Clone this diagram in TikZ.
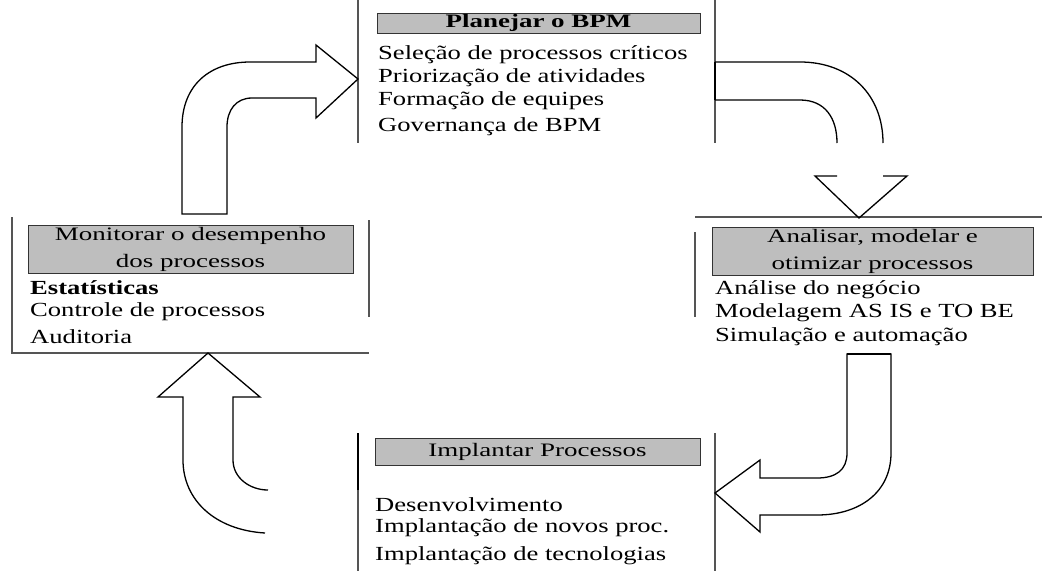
\documentclass[tikz,border=0pt]{standalone}
\usepackage{fontspec}
\setmainfont[FakeStretch=1.33]{Liberation Serif}
\newfontfamily\ttlfont[FakeStretch=1.42]{Liberation Serif}
\definecolor{bargray}{HTML}{BEBEBE}
\definecolor{framegray}{HTML}{555555}
\begin{document}
\begin{tikzpicture}[x=1pt,y=-1pt,
  frame/.style={draw=framegray, line width=1.3pt},
  bar/.style={fill=bargray, draw=black!80, line width=1pt, inner sep=0pt, align=center, font=\ttlfont\fontsize{19}{27}\selectfont},
  item/.style={anchor=west, inner sep=0pt, font=\fontsize{20}{20}\selectfont},
  arr/.style={draw=black, line width=1.3pt, fill=white, line join=miter}]
\useasboundingbox (0,0) rectangle (1042,571);
% ---------- frames
\draw[frame] (358,0) -- (358,143);
\draw[frame] (715,0) -- (715,143);
\draw[frame] (12,217) -- (12,353) -- (369,353);
\draw[frame] (369,220) -- (369,317);
\draw[frame] (695,217) -- (1042,217);
\draw[frame] (695,232) -- (695,317);
\draw[frame] (358,433) -- (358,571);
\draw[draw=black, line width=2.4pt] (358,433) -- (358,490);
\draw[frame] (715,433) -- (715,571);
% ---------- top box
\node[bar, minimum width=323pt, minimum height=20pt] (plan) at (538.5,23) {\bfseries Planejar o BPM};
\node[item] (p1) at (378,55) {Seleção de processos críticos};
\node[item] (p2) at (378,78) {Priorização de atividades};
\node[item] (p3) at (378,101) {Formação de equipes};
\node[item] (p4) at (378,127) {Governança de BPM};
% ---------- left box
\node[bar, minimum width=325pt, minimum height=48pt] (mon) at (190.5,249) {Monitorar o desempenho\\dos processos};
\node[item] (m1) at (30,288) {\bfseries Estatísticas};
\node[item] (m2) at (30,312) {Controle de processos};
\node[item] (m3) at (30,337) {Auditoria};
% ---------- right box
\node[bar, minimum width=321pt, minimum height=48pt] (ana) at (872.5,251) {Analisar, modelar e\\otimizar processos};
\node[item] (a1) at (715,290) {Análise do negócio};
\node[item] (a2) at (715,313) {Modelagem AS IS e TO BE};
\node[item] (a3) at (715,337) {Simulação e automação};
% ---------- bottom box
\node[bar, minimum width=325pt, minimum height=27pt] (imp) at (537.5,451.5) {Implantar Processos};
\node[item] (i1) at (375,505) {Desenvolvimento};
\node[item] (i2) at (375,528) {Implantação de novos proc.};
\node[item] (i3) at (375,556) {Implantação de tecnologias};
% ---------- arrows
% top-left: from monitor to plan
\draw[arr] (182,214) -- (182,127) .. controls (182,85) and (210,62) .. (250,62) -- (316,62) -- (316,45) -- (358,79) -- (316,118) -- (316,98) -- (252,98) .. controls (236,98) and (227,110) .. (227,127) -- (227,214) -- cycle;
% top-right: from plan to analysis (shaft and separate head)
\draw[arr, fill=none] (715,62) -- (800,62) .. controls (850,62) and (883,95) .. (883,143);
\draw[arr, fill=none] (715,100) -- (800,100) .. controls (825,100) and (837,118) .. (837,143);
\draw[draw=black, line width=2.4pt] (715,62) -- (715,100);
\draw[arr, fill=none] (837,176) -- (815,176) -- (859,218) -- (907,176) -- (883,176);
% bottom-right: from analysis to implement
\draw[arr] (847,354) -- (891,354) -- (891,453) .. controls (891,492) and (860,515) .. (817,515) -- (760,515) -- (760,532) -- (715,493) -- (760,460) -- (760,478) -- (817,478) .. controls (836,478) and (847,470) .. (847,453) -- cycle;
\draw[draw=black, line width=2.6pt] (847,354) -- (891,354);
% bottom-left: from implement to monitor
\draw[arr, fill=none] (265,533) .. controls (215,530) and (183,500) .. (183,460) -- (183,397) -- (158,397) -- (208,353) -- (260,397) -- (233,397) -- (233,460) .. controls (233,478) and (250,490) .. (268,490);
\end{tikzpicture}
\end{document}
